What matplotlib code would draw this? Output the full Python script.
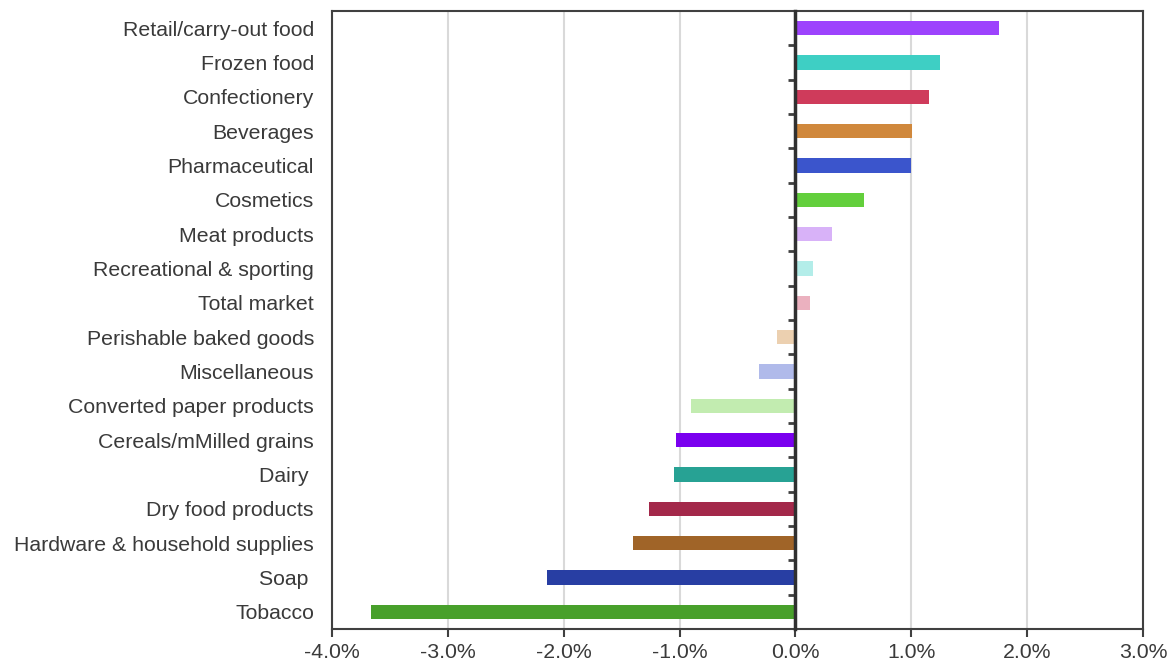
import matplotlib
matplotlib.use("Agg")
import matplotlib.pyplot as plt
from matplotlib.ticker import FuncFormatter, FixedLocator

categories = ["Retail/carry-out food", "Frozen food", "Confectionery", "Beverages",
              "Pharmaceutical", "Cosmetics", "Meat products", "Recreational & sporting",
              "Total market", "Perishable baked goods", "Miscellaneous",
              "Converted paper products", "Cereals/mMilled grains", "Dairy ",
              "Dry food products", "Hardware & household supplies", "Soap ", "Tobacco"]
values = [1.76, 1.25, 1.15, 1.01, 1.00, 0.59, 0.32, 0.15, 0.13, -0.16, -0.31,
          -0.90, -1.03, -1.05, -1.26, -1.40, -2.14, -3.66]
colors = ["#9d43fd", "#3ecfc4", "#cf3b5b", "#d0883c", "#3b55cc", "#63cf3c",
          "#d8b2f8", "#b3ede9", "#ebb1bf", "#ecd0b0", "#b0baea", "#c2ecb0",
          "#7a00ef", "#27a294", "#a3284a", "#a06428", "#283ea3", "#48a02b"]
xticks = [-4, -3, -2, -1, 0, 1, 2, 3]

plt.rcParams['font.family'] = ['Liberation Sans', 'DejaVu Sans']
fig = plt.figure(figsize=(11.69, 6.64), dpi=100)
ax = fig.add_axes([0.284, 0.0527, 0.9777 - 0.284, 0.9834 - 0.0527])

n = len(categories)
ypos = [n - 1 - i for i in range(n)]
ax.barh(ypos, values, height=0.41, color=colors, zorder=3)

ax.set_xlim(-4, 3)
ax.set_ylim(-0.5, n - 0.5)
ax.set_xticks(xticks)
ax.xaxis.set_major_formatter(FuncFormatter(lambda v, p: f"{v:.1f}%"))
ax.grid(axis='x', color='#d9d9d9', linewidth=1.5, zorder=0)
ax.set_yticks(ypos)
ax.set_yticklabels(categories)
ax.tick_params(axis='y', length=0, pad=13, labelsize=15.3, labelcolor='#3a3a3a')
ax.tick_params(axis='x', length=6, width=1.5, color='#404040', labelsize=15.3,
               labelcolor='#3a3a3a', direction='out', pad=4)
for s in ax.spines.values():
    s.set_color('#404040')
    s.set_linewidth(1.5)

# vertical axis at zero with boundary ticks
sec = ax.secondary_yaxis(4 / 7)
for s in sec.spines.values():
    s.set_color('#303030')
    s.set_linewidth(2.5)
sec.yaxis.set_major_locator(FixedLocator([i + 0.5 for i in range(n - 1)]))
sec.yaxis.set_ticks_position('left')
sec.set_yticklabels([])
sec.tick_params(axis='y', length=5, width=2, color='#404040', direction='out')
sec.set_zorder(4)

fig.savefig("out.png", dpi=100)
